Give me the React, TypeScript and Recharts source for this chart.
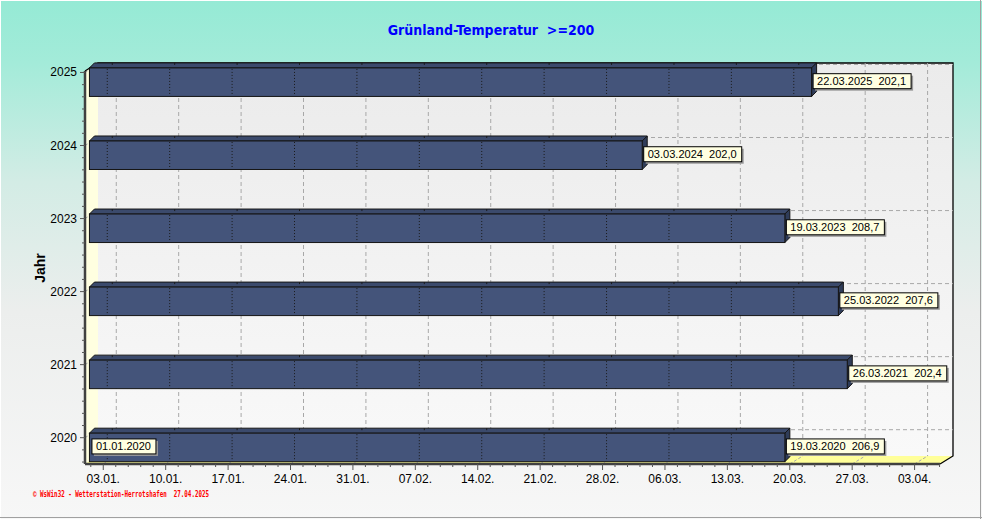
import React from 'react';
import { ComposedChart, Bar, XAxis, YAxis, CartesianGrid } from 'recharts';

// ---------- data ----------
const years = [2025, 2024, 2023, 2022, 2021, 2020];
const startDay = 1; // 01.01.
const startLabels = ['', '', '', '', '', '01.01.2020'];
const endDays = [82, 63, 79, 85, 86, 79]; // day of year (leap-year axis 2020)
const endDates = ['22.03.2025', '03.03.2024', '19.03.2023', '25.03.2022', '26.03.2021', '19.03.2020'];
const tempSums = ['202,1', '202,0', '208,7', '207,6', '202,4', '206,9'];

const xTickDays = [3, 10, 17, 24, 31, 38, 45, 52, 59, 66, 73, 80, 87, 94];
const xTickLabels = ['03.01.', '10.01.', '17.01.', '24.01.', '31.01.', '07.02.', '14.02.', '21.02.', '28.02.', '06.03.', '13.03.', '20.03.', '27.03.', '03.04.'];
const yTickYears = [2020, 2021, 2022, 2023, 2024, 2025];

const titleText = 'Grünland-Temperatur  >=200';
const yAxisTitle = 'Jahr';
const footerText = '\u00A9 WsWin32 - Wetterstation-Herrotshafen  27.04.2025';

// ---------- layout ----------
const W = 982;
const H = 519;
const PL = 85, PT = 71, PR = 940, PB = 464;
const DX = 13, DY = 8; // wall depth
const BDX = 5, BDY = 5; // bar depth
const X_DOMAIN: [number, number] = [0.95, 96.85];
const Y_DOMAIN: [number, number] = [2019.64, 2025.02];
const FONT = '"Liberation Sans", Arial, sans-serif';
const Y_AXIS_W = 60;
const X_AXIS_H = 30;

const chartData = years.map((year, i) => ({
  year,
  range: [startDay, endDays[i]],
  endDate: endDates[i],
  sum: tempSums[i],
  startLabel: startLabels[i],
}));

const xMinor: number[] = [];
[xTickDays[0] - 7, ...xTickDays].forEach((d) => {
  for (let k = 1; k <= 4; k++) {
    const v = d + k * 1.4;
    if (v >= X_DOMAIN[0] && v <= X_DOMAIN[1]) xMinor.push(v);
  }
});
const xAllTicks = [...xTickDays, ...xMinor];

const yMinor: number[] = [];
for (let yy = 2019; yy <= 2025; yy++) {
  for (let k = 1; k <= 5; k++) {
    const v = yy + k / 6;
    if (v >= Y_DOMAIN[0] && v <= Y_DOMAIN[1]) yMinor.push(v);
  }
}
const yAllTicks = [...yTickYears, ...yMinor];

// ---------- renderers ----------
const XTick = (props: any) => {
  const { x, y, payload } = props;
  const idx = xTickDays.indexOf(payload.value);
  if (idx < 0) {
    return <line x1={x} y1={y} x2={x} y2={y + 3} stroke="#555" strokeWidth={1} />;
  }
  return (
    <g>
      <line x1={x} y1={y} x2={x} y2={y + 6} stroke="#555" strokeWidth={1} />
      <text x={x} y={y + 19} textAnchor="middle" fontFamily={FONT} fontSize={12} fill="#000">
        {xTickLabels[idx]}
      </text>
    </g>
  );
};

const YTick = (props: any) => {
  const { x, y, payload } = props;
  const major = yTickYears.indexOf(payload.value) >= 0;
  if (!major) {
    return <line x1={x - 3} y1={y} x2={x} y2={y} stroke="#555" strokeWidth={1} />;
  }
  return (
    <g>
      <line x1={x - 5} y1={y} x2={x} y2={y} stroke="#555" strokeWidth={1} />
      <text x={x - 8} y={y + 4} textAnchor="end" fontFamily={FONT} fontSize={12} fill="#000">
        {String(payload.value)}
      </text>
    </g>
  );
};

const GridV = (props: any) => {
  const { x1, y1, y2 } = props;
  const top = Math.min(y1, y2);
  const bot = Math.max(y1, y2);
  return (
    <g key={props.key}>
      <line x1={x1 + DX} y1={top - DY} x2={x1 + DX} y2={bot - DY} stroke="#a8a8a8" strokeDasharray="4 3" />
      <line x1={x1} y1={bot} x2={x1 + DX} y2={bot - DY} stroke="#a8a8a8" strokeDasharray="3 2" />
    </g>
  );
};

const GridH = (props: any) => {
  const { x1, x2, y1 } = props;
  const l = Math.min(x1, x2);
  const r = Math.max(x1, x2);
  return (
    <g key={props.key}>
      <line x1={l + DX} y1={y1 - DY} x2={r + DX} y2={y1 - DY} stroke="#a8a8a8" strokeDasharray="4 3" />
      <line x1={l} y1={y1} x2={l + DX} y2={y1 - DY} stroke="#a8a8a8" strokeDasharray="3 2" />
    </g>
  );
};

const LabelBox = ({ x, y, w, text }: { x: number; y: number; w: number; text: string }) => (
  <g>
    <rect x={x + 2} y={y + 2} width={w} height={15} fill="#9a9a9a" />
    <rect x={x} y={y} width={w} height={15} fill="#ffffe1" stroke="#000" strokeWidth={1} />
    <text
      x={x + 4}
      y={y + 11.5}
      fontFamily={FONT}
      fontSize={11.5}
      fill="#000"
      textLength={w - 9}
      lengthAdjust="spacingAndGlyphs"
      style={{ whiteSpace: 'pre' }}
    >
      {text}
    </text>
  </g>
);

const Bar3D = (props: any) => {
  const { x, y, width, height, payload } = props;
  if (x == null || width == null || !payload) return null;
  const cy = y + height / 2;
  const fx = x + 4;
  const fy = cy - 5;
  const fw = width;
  const fh = 28.5;
  const [s, e] = payload.range;
  const ppd = width / (e - s);
  const dots = xTickDays.filter((d) => d > s && d < e).map((d) => fx + (d - s) * ppd);
  const ly = fy + fh / 2 - 8.5;
  return (
    <g>
      <polygon
        points={`${fx},${fy} ${fx + BDX},${fy - BDY} ${fx + fw + BDX},${fy - BDY} ${fx + fw},${fy}`}
        fill="#3b4a6c"
        stroke="#151515"
        strokeWidth={1}
      />
      <polygon
        points={`${fx + fw},${fy} ${fx + fw + BDX},${fy - BDY} ${fx + fw + BDX},${fy + fh - BDY} ${fx + fw},${fy + fh}`}
        fill="#2f3c59"
        stroke="#151515"
        strokeWidth={1}
      />
      <rect x={fx} y={fy} width={fw} height={fh} fill="#44547a" stroke="#151515" strokeWidth={1} />
      {dots.map((dx, i) => (
        <g key={i}>
          <line x1={dx} y1={fy + 1} x2={dx} y2={fy + fh - 1} stroke="#1a1a1a" strokeWidth={1} strokeDasharray="1 2" />
          <line x1={dx + BDX} y1={fy - BDY} x2={dx + BDX} y2={fy - BDY + 2} stroke="#1a1a1a" strokeWidth={1} />
        </g>
      ))}
      <LabelBox x={fx + fw + 1.5} y={ly} w={98} text={`${payload.endDate}  ${payload.sum}`} />
      {payload.startLabel ? <LabelBox x={fx + 2.5} y={ly} w={64} text={payload.startLabel} /> : null}
    </g>
  );
};

export default function App() {
  return (
    <div style={{ position: 'relative', width: W, height: H }}>
      <style>{'body{margin:0;}'}</style>
      <svg width={W} height={H} style={{ position: 'absolute', left: 0, top: 0 }}>
        <defs>
          <linearGradient id="bgGrad" x1="0" y1="0" x2="0" y2="1">
            <stop offset="0" stopColor="#95ead5" />
            <stop offset="0.12" stopColor="#a3ebd9" />
            <stop offset="0.35" stopColor="#d3ece5" />
            <stop offset="0.6" stopColor="#eceeed" />
            <stop offset="1" stopColor="#f7f7f7" />
          </linearGradient>
          <linearGradient id="wallGrad" x1="0" y1="0" x2="0" y2="1">
            <stop offset="0" stopColor="#ebebeb" />
            <stop offset="1" stopColor="#f9f9f9" />
          </linearGradient>
        </defs>
        <rect x={0} y={0} width={W} height={H} fill="url(#bgGrad)" />
        <line x1={0} y1={0.5} x2={W} y2={0.5} stroke="#ffffff" />
        <line x1={0.5} y1={0} x2={0.5} y2={H} stroke="#ffffff" />
        <line x1={0} y1={H - 1.5} x2={W} y2={H - 1.5} stroke="#a0a0a0" />
        <line x1={W - 1.5} y1={0} x2={W - 1.5} y2={H} stroke="#a0a0a0" />
        {/* back wall */}
        <rect x={PL + DX} y={PT - DY} width={PR - PL} height={PB - PT} fill="url(#wallGrad)" />
        {/* left wall */}
        <polygon points={`${PL},${PT} ${PL + DX},${PT - DY} ${PL + DX},${PB - DY} ${PL},${PB}`} fill="#ffffe0" />
        {/* floor */}
        <polygon points={`${PL},${PB} ${PL + DX},${PB - DY} ${PR + DX},${PB - DY} ${PR},${PB}`} fill="#ffff99" />
        <polyline
          points={`${PL},${PT} ${PL + DX},${PT - DY} ${PR + DX},${PT - DY} ${PR + DX},${PB - DY} ${PR},${PB}`}
          fill="none"
          stroke="#000"
          strokeWidth={1.3}
        />
        <text
          x={W / 2}
          y={35}
          textAnchor="middle"
          fontFamily={'"DejaVu Sans Condensed", "DejaVu Sans", sans-serif'}
          fontWeight="bold"
          fontSize={14}
          fill="#0000ff"
          style={{ whiteSpace: 'pre' }}
        >
          {titleText}
        </text>
        <text
          x={45}
          y={268}
          transform="rotate(-90 45 268)"
          textAnchor="middle"
          fontFamily={FONT}
          fontWeight="bold"
          fontSize={14}
          fill="#000"
        >
          {yAxisTitle}
        </text>
        <text
          x={33}
          y={497}
          fontFamily={'"DejaVu Sans Mono", monospace'}
          fontSize={8}
          fontWeight="bold"
          fill="#ff0000"
          textLength={176}
          lengthAdjust="spacingAndGlyphs"
          style={{ whiteSpace: 'pre' }}
        >
          {footerText}
        </text>
      </svg>
      <div style={{ position: 'absolute', left: 0, top: 0 }}>
        <ComposedChart
          width={W}
          height={H}
          data={chartData}
          layout="vertical"
          margin={{ top: PT, right: W - PR, bottom: H - PB - X_AXIS_H, left: PL - Y_AXIS_W }}
        >
          <CartesianGrid
            verticalValues={xTickDays}
            horizontalValues={yTickYears}
            vertical={GridV}
            horizontal={GridH}
            stroke="#a8a8a8"
          />
          <XAxis
            type="number"
            domain={X_DOMAIN}
            ticks={xAllTicks}
            interval={0}
            tick={XTick}
            tickLine={false}
            tickSize={0}
            tickMargin={0}
            height={X_AXIS_H}
            axisLine={{ stroke: '#404040', strokeWidth: 2.5 }}
          />
          <YAxis
            type="number"
            dataKey="year"
            domain={Y_DOMAIN}
            reversed
            ticks={yAllTicks}
            interval={0}
            tick={YTick}
            tickLine={false}
            tickSize={0}
            tickMargin={0}
            width={Y_AXIS_W}
            axisLine={{ stroke: '#404040', strokeWidth: 2.5 }}
          />
          <Bar dataKey="range" barSize={28} shape={Bar3D} isAnimationActive={false} />
        </ComposedChart>
      </div>
    </div>
  );
}
